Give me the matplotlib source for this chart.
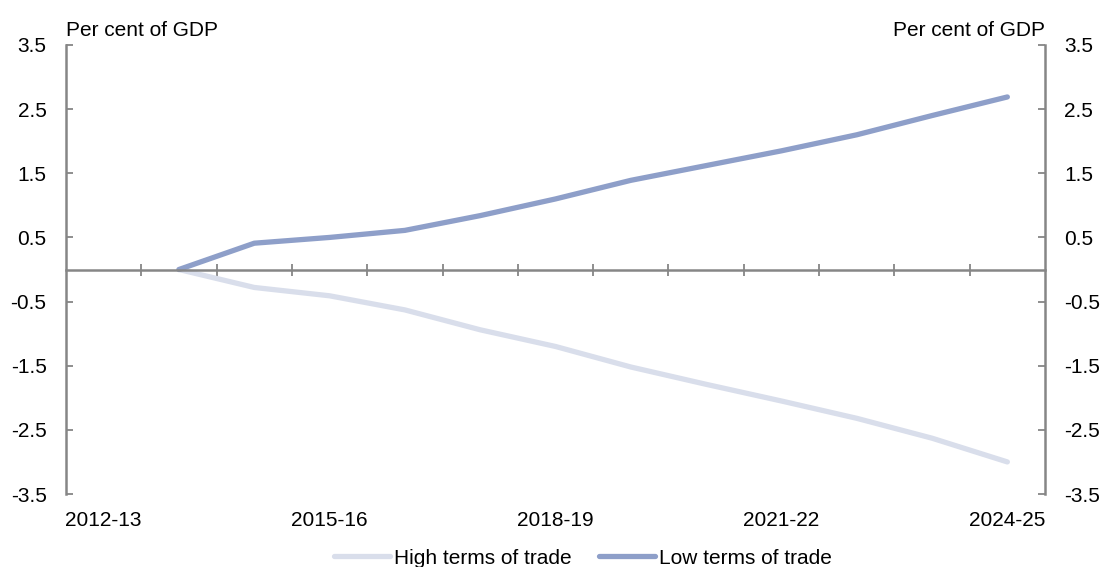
import matplotlib.pyplot as plt
import numpy as np

plt.rcParams['font.family'] = ['Liberation Sans', 'DejaVu Sans']

years = ['2012-13', '2013-14', '2014-15', '2015-16', '2016-17', '2017-18', '2018-19',
         '2019-20', '2020-21', '2021-22', '2022-23', '2023-24', '2024-25']
high_tot = [np.nan, 0.0, -0.28, -0.41, -0.63, -0.94, -1.20, -1.52, -1.79, -2.05, -2.32, -2.63, -3.00]
low_tot = [np.nan, 0.0, 0.41, 0.50, 0.61, 0.84, 1.10, 1.39, 1.62, 1.85, 2.10, 2.40, 2.69]
label_years = ['2012-13', '2015-16', '2018-19', '2021-22', '2024-25']
yticks = [-3.5, -2.5, -1.5, -0.5, 0.5, 1.5, 2.5, 3.5]

grey = '#868686'
fs = 15

fig = plt.figure(figsize=(11.04, 5.67), dpi=100)
ax = fig.add_axes([66 / 1104, 1 - 494 / 567, (1045 - 66) / 1104, (494 - 45) / 567])

x = np.arange(len(years))
ax.plot(x, high_tot, color='#D9DEEB', lw=3.8, solid_capstyle='round', label='High terms of trade')
ax.plot(x, low_tot, color='#8E9FC9', lw=3.8, solid_capstyle='round', label='Low terms of trade')

ax.set_xlim(-0.5, len(years) - 0.5)
ax.set_ylim(-3.5, 3.5)

# spines
ax.spines['top'].set_visible(False)
for s in ['left', 'right', 'bottom']:
    ax.spines[s].set_color(grey)
    ax.spines[s].set_linewidth(1.8)
ax.spines['bottom'].set_position(('data', 0))

# tick marks on zero line at category boundaries
ax.set_xticks(np.arange(0.5, len(years) - 1, 1.0))
ax.tick_params(axis='x', direction='inout', length=9, width=1.3, color=grey, labelbottom=False)

# year labels at the bottom
sec = ax.secondary_xaxis(0)
sec.set_xticks([years.index(y) for y in label_years])
sec.set_xticklabels(label_years, fontsize=fs)
sec.spines['bottom'].set_visible(False)
sec.tick_params(length=0, pad=12.5)

# y axes on both sides
ax.set_yticks(yticks)
ax.set_yticklabels([f'{v:.1f}' for v in yticks])
ax.tick_params(axis='y', direction='in', length=5, width=1.3, color=grey,
               left=True, right=True, labelleft=True, labelright=True, labelsize=fs, pad=14)

ax.text(0, 1.011, 'Per cent of GDP', transform=ax.transAxes, ha='left', va='bottom', fontsize=fs)
ax.text(1, 1.011, 'Per cent of GDP', transform=ax.transAxes, ha='right', va='bottom', fontsize=fs)

fig.legend(loc='center', bbox_to_anchor=(583 / 1104, 1 - 558 / 567), ncol=2, frameon=False,
           fontsize=fs, handlelength=2.65, handletextpad=0.2, columnspacing=1.35, borderpad=0)

fig.savefig('out.png', dpi=100)
